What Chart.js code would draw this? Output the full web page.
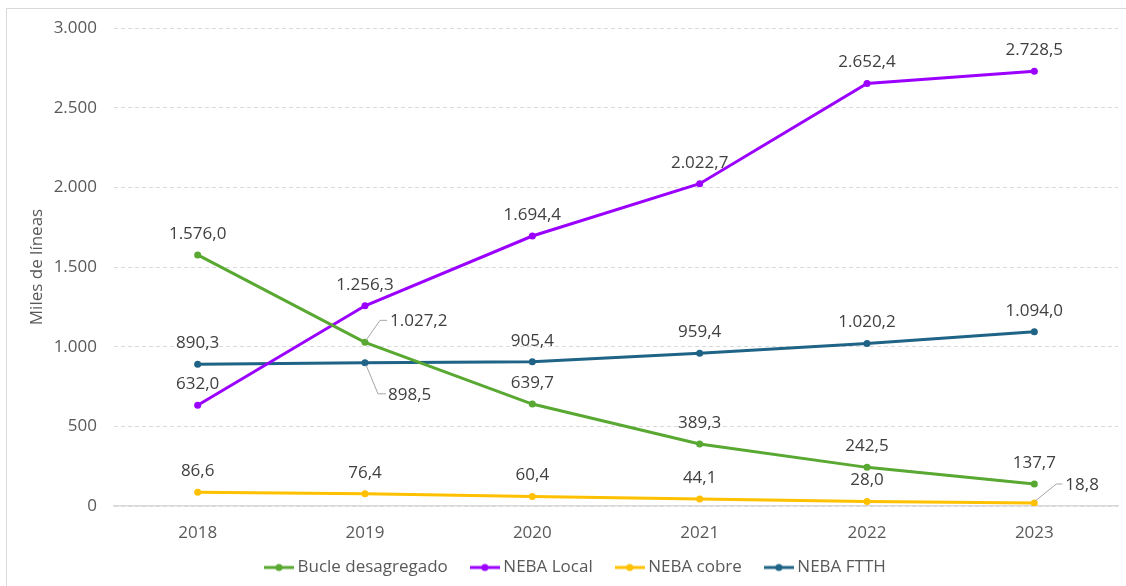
<!DOCTYPE html>
<html>
<head>
<meta charset="utf-8">
<script src="https://cdn.jsdelivr.net/npm/chart.js@4/dist/chart.umd.min.js"></script>
<style>
  html, body { margin: 0; padding: 0; background: #fff; }
  #wrap { width: 1126px; height: 586px; }
</style>
</head>
<body>
<div id="wrap"><canvas id="chart" width="1126" height="586"></canvas></div>
<script>
// datos (miles de líneas)
const years = ['2018', '2019', '2020', '2021', '2022', '2023'];
const bucle = [1576.0, 1027.2, 639.7, 389.3, 242.5, 137.7];
const nebaLocal = [632.0, 1256.3, 1694.4, 2022.7, 2652.4, 2728.5];
const nebaCobre = [86.6, 76.4, 60.4, 44.1, 28.0, 18.8];
const nebaFtth = [890.3, 898.5, 905.4, 959.4, 1020.2, 1094.0];

const FONT = '"Open Sans", "Noto Sans", sans-serif';

function fmt(v, dec) {
    const parts = v.toFixed(dec).split('.');
    const ent = parts[0].replace(/\B(?=(\d{3})+(?!\d))/g, '.');
    return parts.length > 1 ? ent + ',' + parts[1] : ent;
}

// icono de leyenda: linea con punto
function legendIcon(color) {
    const c = document.createElement('canvas');
    c.width = 30; c.height = 10;
    const g = c.getContext('2d');
    g.strokeStyle = color;
    g.lineWidth = 3;
    g.beginPath(); g.moveTo(0, 5); g.lineTo(30, 5); g.stroke();
    g.fillStyle = color;
    g.beginPath(); g.arc(15, 5, 3.5, 0, Math.PI * 2); g.fill();
    return c;
}

// etiquetas con linea guia (dataset-indice)
const callouts = {
    '0-1': { ex: 15, ey: -22, lx: 22, tx: 25, ty: -21 },
    '3-1': { ex: 13, ey: 31, lx: 21, tx: 23, ty: 32 },
    '2-5': { ex: 22, ey: -19, lx: 28, tx: 31, ty: -18 }
};

const valueLabels = {
    id: 'valueLabels',
    afterDatasetsDraw(chart) {
        const ctx = chart.ctx;
        ctx.save();
        ctx.font = '17px ' + FONT;
        ctx.fillStyle = '#404040';
        ctx.textBaseline = 'middle';
        chart.data.datasets.forEach((ds, i) => {
            chart.getDatasetMeta(i).data.forEach((pt, j) => {
                const text = fmt(ds.data[j], 1);
                const c = callouts[i + '-' + j];
                if (c) {
                    ctx.strokeStyle = '#a6a6a6';
                    ctx.lineWidth = 1;
                    ctx.beginPath();
                    ctx.moveTo(pt.x + 1, pt.y + (c.ey < 0 ? -2 : 2));
                    ctx.lineTo(pt.x + c.ex, pt.y + c.ey);
                    ctx.lineTo(pt.x + c.lx, pt.y + c.ey);
                    ctx.stroke();
                    ctx.textAlign = 'left';
                    ctx.fillText(text, pt.x + c.tx, pt.y + c.ty);
                } else {
                    ctx.textAlign = 'center';
                    ctx.fillText(text, pt.x, pt.y - 21);
                }
            });
        });
        ctx.restore();
    }
};

const frame = {
    id: 'frame',
    beforeLayout(chart) {
        // la leyenda ocupa una altura fija
        const lg = chart.legend;
        if (lg && !lg._fijo) {
            const fit = lg.fit;
            lg.fit = function() { fit.call(this); this.height = 40; };
            lg._fijo = true;
        }
    },
    beforeDraw(chart) {
        const ctx = chart.ctx;
        ctx.save();
        ctx.fillStyle = '#fff';
        ctx.fillRect(0, 0, chart.width, chart.height);
        ctx.strokeStyle = '#d9d9d9';
        ctx.lineWidth = 1;
        ctx.strokeRect(6.5, 8.5, 1300, 800);
        ctx.restore();
    },
    afterLayout(chart) {
        // mover la leyenda a su sitio
        const lg = chart.legend;
        const pad = lg.options.labels.padding;
        lg.left = 269 - pad;
        lg.right = lg.left + 900;
        lg.top = 566 - pad - 7;
        lg.bottom = chart.height;
    }
};

function serie(label, data, color) {
    return {
        label: label,
        data: data,
        borderColor: color,
        backgroundColor: color,
        borderWidth: 3,
        pointRadius: 3.5,
        pointHoverRadius: 3.5,
        pointBorderWidth: 0,
        pointStyle: 'circle',
        tension: 0
    };
}

const datasets = [
    serie('Bucle desagregado', bucle, '#58A832'),
    serie('NEBA Local', nebaLocal, '#9B00FF'),
    serie('NEBA cobre', nebaCobre, '#FFC000'),
    serie('NEBA FTTH', nebaFtth, '#1F6386')
];

new Chart(document.getElementById('chart'), {
    type: 'line',
    data: { labels: years, datasets: datasets },
    options: {
        responsive: false,
        animation: false,
        devicePixelRatio: 1,
        layout: { padding: { left: 7, right: 8, top: 28, bottom: 0 } },
        plugins: {
            tooltip: { enabled: false },
            legend: {
                position: 'bottom',
                align: 'start',
                labels: {
                    usePointStyle: true,
                    pointStyleWidth: 20,
                    padding: 27,
                    color: '#595959',
                    font: { family: FONT, size: 17 },
                    generateLabels(chart) {
                        return chart.data.datasets.map((d, i) => ({
                            text: d.label,
                            fillStyle: d.borderColor,
                            strokeStyle: d.borderColor,
                            fontColor: '#595959',
                            lineWidth: 0,
                            pointStyle: legendIcon(d.borderColor),
                            datasetIndex: i,
                            hidden: false
                        }));
                    }
                }
            }
        },
        scales: {
            x: {
                offset: true,
                grid: { display: false, drawTicks: false },
                border: { display: true, color: '#d9d9d9', width: 1.5 },
                ticks: { color: '#595959', font: { family: FONT, size: 17 }, padding: 17 },
                afterFit(s) { s.height = 40; }
            },
            y: {
                min: 0,
                max: 3000,
                grid: { color: '#d9d9d9', lineWidth: 1, drawTicks: false },
                border: { display: false, dash: [4, 3] },
                ticks: {
                    stepSize: 500,
                    color: '#595959',
                    padding: 17,
                    font: { family: FONT, size: 17 },
                    callback: v => fmt(v, 0)
                },
                title: {
                    display: true,
                    text: 'Miles de líneas',
                    color: '#595959',
                    font: { family: FONT, size: 17 },
                    padding: { top: 20, bottom: 0 }
                },
                afterFit(s) { s.width = 107; }
            }
        }
    },
    plugins: [frame, valueLabels]
});
</script>
</body>
</html>
